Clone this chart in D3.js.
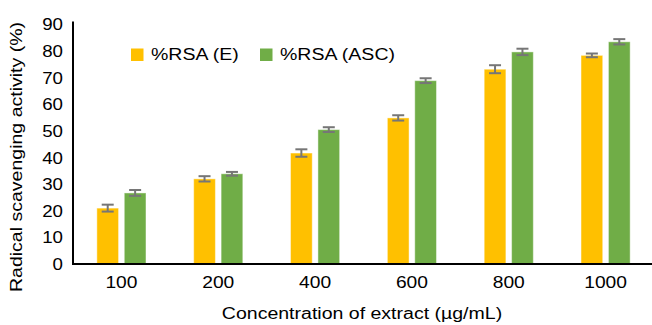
<!DOCTYPE html>
<html>
<head>
<meta charset="utf-8">
<script src="https://cdn.jsdelivr.net/npm/d3@7"></script>
<style>
  html, body { margin: 0; padding: 0; background: #fff; }
  svg { display: block; font-family: "Liberation Sans", Arial, Helvetica, sans-serif; }
</style>
</head>
<body>
<svg id="chart" width="652" height="325"></svg>
<script>
// Extract concentrations (µg/mL)
const categories = ["100", "200", "400", "600", "800", "1000"];
const seriesNames = ["%RSA (E)", "%RSA (ASC)"];
// Radical scavenging activity (%) and standard errors
const rsaE     = [21.0, 32.0, 41.7, 54.9, 73.2, 78.4];
const rsaEErr  = [1.3, 1.0, 1.4, 1.0, 1.5, 0.7];
const rsaASC   = [26.7, 33.9, 50.5, 68.9, 79.7, 83.5];
const rsaASCErr= [1.1, 0.7, 0.9, 0.9, 1.2, 1.0];
const yTicks = [0, 10, 20, 30, 40, 50, 60, 70, 80, 90];
const colors = ["#FFC000", "#70AD47"];

const svg = d3.select("#chart");
const plotLeft = 73, plotRight = 654, plotTop = 24.5, plotBottom = 264;

// Widen glyphs horizontally so the text reads like a broad Helvetica face
function widen(sel, k) {
  sel.each(function () {
    const w = this.getComputedTextLength();
    d3.select(this).attr("textLength", w * k).attr("lengthAdjust", "spacingAndGlyphs");
  });
}

const x = d3.scaleBand().domain(categories).range([plotLeft, plotRight]).padding(0);
const xs = d3.scaleBand().domain(seriesNames).range([0, x.bandwidth()])
  .paddingInner(0.208).paddingOuter(0.87);
const y = d3.scaleLinear().domain([0, 90]).range([plotBottom, plotTop]);

const rows = categories.map((c, i) => ({
  cat: c,
  vals: [
    { s: seriesNames[0], v: rsaE[i], e: rsaEErr[i], color: colors[0] },
    { s: seriesNames[1], v: rsaASC[i], e: rsaASCErr[i], color: colors[1] }
  ]
}));

const groups = svg.append("g").selectAll("g").data(rows).join("g")
  .attr("transform", d => `translate(${x(d.cat)},0)`);

groups.selectAll("rect").data(d => d.vals).join("rect")
  .attr("x", d => xs(d.s))
  .attr("width", xs.bandwidth())
  .attr("y", d => y(d.v))
  .attr("height", d => y(0) - y(d.v))
  .attr("fill", d => d.color)
  .attr("stroke", "rgba(255,255,255,0.45)")
  .attr("stroke-width", 1);

// Error bars
const err = groups.selectAll("g.err").data(d => d.vals).join("g").attr("class", "err")
  .attr("stroke", "#767676").attr("stroke-width", 2);
err.append("line")
  .attr("x1", d => xs(d.s) + xs.bandwidth() / 2)
  .attr("x2", d => xs(d.s) + xs.bandwidth() / 2)
  .attr("y1", d => y(d.v + d.e)).attr("y2", d => y(d.v - d.e));
[1, -1].forEach(sgn => {
  err.append("line")
    .attr("x1", d => xs(d.s) + xs.bandwidth() / 2 - 6)
    .attr("x2", d => xs(d.s) + xs.bandwidth() / 2 + 6)
    .attr("y1", d => y(d.v + sgn * d.e)).attr("y2", d => y(d.v + sgn * d.e));
});

// Y axis
const yAxis = svg.append("g").attr("transform", `translate(${plotLeft},0)`)
  .call(d3.axisLeft(y).tickValues(yTicks).tickSize(0).tickPadding(10));
yAxis.select(".domain").attr("stroke", "#000").attr("stroke-width", 2)
  .attr("d", `M0,${y(90) - 3}V${y(0)}`);
yAxis.selectAll("text").attr("font-size", 17).attr("fill", "#000")
  .attr("font-family", "Liberation Sans, Arial, sans-serif").call(widen, 1.1);

// X axis
const xAxis = svg.append("g").attr("transform", `translate(0,${plotBottom})`)
  .call(d3.axisBottom(x).tickSize(0).tickPadding(12));
xAxis.select(".domain").attr("stroke", "#000").attr("stroke-width", 2)
  .attr("d", `M${plotLeft - 1},0H${plotRight}`);
xAxis.selectAll("text").attr("font-size", 17).attr("fill", "#000")
  .attr("font-family", "Liberation Sans, Arial, sans-serif").call(widen, 1.13);

// Axis titles
svg.append("text")
  .attr("transform", `translate(22,157) rotate(-90)`)
  .attr("text-anchor", "middle")
  .attr("font-size", 16)
  .text("Radical scavenging activity (%)")
  .call(widen, 1.22);
svg.append("text")
  .attr("x", 362).attr("y", 319)
  .attr("text-anchor", "middle")
  .attr("font-size", 16)
  .text("Concentration of extract (µg/mL)")
  .call(widen, 1.22);

// Legend
const legendX = [131, 260];
const legend = svg.append("g").selectAll("g").data(seriesNames).join("g")
  .attr("transform", (d, i) => `translate(${legendX[i]},48.5)`);
legend.append("rect").attr("width", 12.5).attr("height", 12.5)
  .attr("fill", (d, i) => colors[i]);
legend.append("text").attr("x", 20).attr("y", 11.8)
  .attr("font-size", 16).text(d => d)
  .call(widen, 1.22);
</script>
</body>
</html>
